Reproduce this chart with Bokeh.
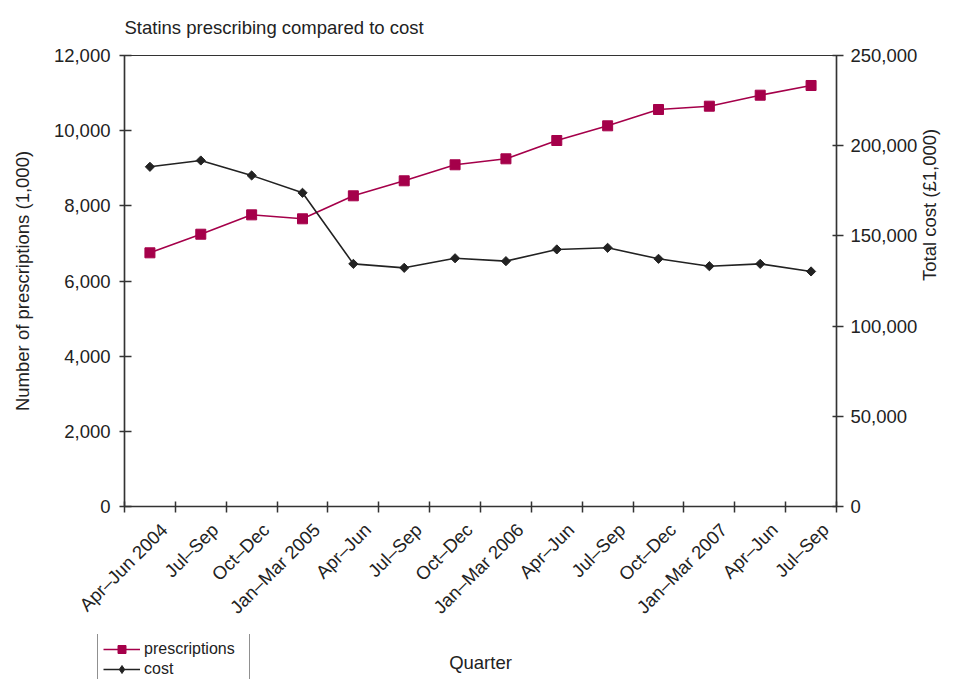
import math
from bokeh.plotting import figure
from bokeh.models import (Range1d, LinearAxis, FixedTicker, NumeralTickFormatter,
                          Legend, LegendItem)
from bokeh.embed import file_html
from bokeh.resources import INLINE

quarters = ["Apr\u2013Jun 2004", "Jul\u2013Sep", "Oct\u2013Dec", "Jan\u2013Mar 2005",
            "Apr\u2013Jun", "Jul\u2013Sep", "Oct\u2013Dec", "Jan\u2013Mar 2006",
            "Apr\u2013Jun", "Jul\u2013Sep", "Oct\u2013Dec", "Jan\u2013Mar 2007",
            "Apr\u2013Jun", "Jul\u2013Sep"]
prescriptions = [6750, 7245, 7760, 7655, 8267, 8666, 9092, 9251, 9738, 10129,
                 10563, 10651, 10944, 11202]
cost = [188300, 191800, 183500, 173900, 134500, 132300, 137600, 136000, 142500,
        143400, 137300, 133200, 134500, 130300]
left_ticks = [0, 2000, 4000, 6000, 8000, 10000, 12000]
right_ticks = [0, 50000, 100000, 150000, 200000, 250000]

FONT = "Liberation Sans"
FS = "18.5px"
RED = "#A5004A"
DARK = "#222222"
AXC = "#333333"

xs = list(range(1, len(quarters) + 1))
label_shift = 0.28
label_pos = [round(x + label_shift, 2) for x in xs]

p = figure(width=957, height=679, output_backend="svg", toolbar_location=None,
           x_range=Range1d(0.5, len(quarters) + 0.5), y_range=Range1d(0, 12000),
           min_border_left=124, min_border_right=121, min_border_top=55,
           min_border_bottom=173)
p.extra_y_ranges = {"cost": Range1d(0, 250000)}

p.title.text = "Statins prescribing compared to cost"
p.title.text_font = FONT
p.title.text_font_size = FS
p.title.text_font_style = "normal"
p.title.text_color = DARK
p.title.align = "left"
p.title.vertical_align = "top"
p.title.standoff = 32

p.grid.visible = False
p.outline_line_color = AXC
p.outline_line_width = 1.2
p.background_fill_color = "white"
p.border_fill_color = "white"

def style_axis(ax):
    ax.axis_line_color = AXC
    ax.axis_line_width = 1.5
    ax.major_tick_line_color = AXC
    ax.major_tick_line_width = 1.5
    ax.minor_tick_line_color = AXC
    ax.minor_tick_line_width = 1.5
    ax.major_label_text_font = FONT
    ax.major_label_text_font_size = FS
    ax.major_label_text_color = DARK
    ax.axis_label_text_font = FONT
    ax.axis_label_text_font_size = FS
    ax.axis_label_text_font_style = "normal"
    ax.axis_label_text_color = DARK

# bottom axis: boundary ticks as minor ticks, labels on (slightly shifted) major ticks
xa = p.xaxis[0]
style_axis(xa)
xa.ticker = FixedTicker(ticks=label_pos,
                        minor_ticks=[x - 0.5 for x in xs] + [len(xs) + 0.5])
xa.major_label_overrides = {lp: q for lp, q in zip(label_pos, quarters)}
xa.major_tick_in = 0
xa.major_tick_out = 0
xa.minor_tick_in = 5
xa.minor_tick_out = 6
xa.major_label_orientation = math.pi / 4
xa.major_label_standoff = 14
xa.axis_label = "Quarter"
xa.axis_label_standoff = 24

# left axis
ya = p.yaxis[0]
style_axis(ya)
ya.ticker = FixedTicker(ticks=left_ticks)
ya.formatter = NumeralTickFormatter(format="0,0")
ya.minor_tick_line_color = None
ya.major_tick_in = 7
ya.major_tick_out = 5
ya.major_label_standoff = 9
ya.axis_label = "Number of prescriptions (1,000)"
ya.axis_label_standoff = 18

# right axis
ra = LinearAxis(y_range_name="cost")
style_axis(ra)
ra.ticker = FixedTicker(ticks=right_ticks)
ra.formatter = NumeralTickFormatter(format="0,0")
ra.minor_tick_line_color = None
ra.major_tick_in = 4
ra.major_tick_out = 7
ra.major_label_standoff = 7
ra.axis_label = "Total cost (\u00a31,000)"
ra.axis_label_standoff = 9
ra.axis_label_orientation = math.pi / 2
p.add_layout(ra, "right")

p.line(xs, prescriptions, line_color=RED, line_width=1.6)
p.scatter(xs, prescriptions, marker="square", size=10, fill_color=RED,
          line_color=RED)
p.line(xs, cost, line_color=DARK, line_width=1.6, y_range_name="cost")
p.scatter(xs, cost, marker="square", angle=math.pi / 4, size=6.5,
          fill_color=DARK, line_color=DARK, y_range_name="cost")

# separate transparent strip, pulled up over the bottom of the chart, holding the legend
lf = figure(width=957, height=45, output_backend="svg", toolbar_location=None,
            x_range=Range1d(100, 101), y_range=Range1d(0, 1),
            x_axis_location=None, y_axis_location=None,
            min_border_left=0, min_border_right=0, min_border_top=0,
            min_border_bottom=0, margin=(-45, 0, 0, 0))
lf.grid.visible = False
lf.outline_line_color = None
lf.background_fill_alpha = 0
lf.border_fill_alpha = 0
lr1 = lf.line(xs, prescriptions, line_color=RED, line_width=1.6)
ls1 = lf.scatter(xs, prescriptions, marker="square", size=10, fill_color=RED,
                 line_color=RED)
lr2 = lf.line(xs, cost, line_color=DARK, line_width=1.6)
ls2 = lf.scatter(xs, cost, marker="diamond", size=11,
                 fill_color=DARK, line_color=DARK)

legend = Legend(items=[LegendItem(label="prescriptions", renderers=[lr1, ls1]),
                       LegendItem(label="cost", renderers=[lr2, ls2])],
                location=(97, -6))
legend.label_text_font = FONT
legend.label_text_font_size = "16px"
legend.label_text_color = DARK
legend.border_line_color = DARK
legend.border_line_width = 1
legend.padding = 5
legend.spacing = 0
legend.margin = 0
legend.label_height = 20
legend.label_width = 100
legend.glyph_height = 20
legend.glyph_width = 37
legend.label_standoff = 4
legend.background_fill_color = "white"
legend.background_fill_alpha = 1
lf.add_layout(legend)

open("out.html", "w").write(file_html([p, lf], INLINE))
